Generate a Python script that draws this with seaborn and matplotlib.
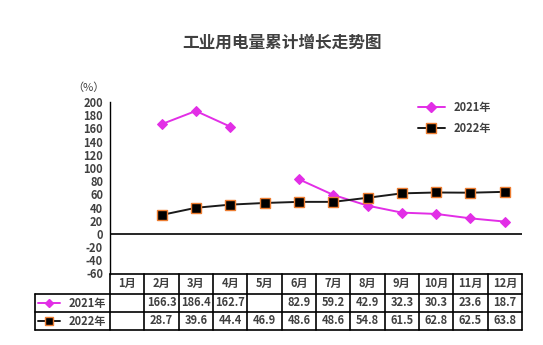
import numpy as np
import pandas as pd
import matplotlib
matplotlib.use("Agg")
import matplotlib.pyplot as plt
import seaborn as sns
from matplotlib.lines import Line2D

months = ["1月", "2月", "3月", "4月", "5月", "6月", "7月", "8月", "9月", "10月", "11月", "12月"]
v2021 = [np.nan, 166.3, 186.4, 162.7, np.nan, 82.9, 59.2, 42.9, 32.3, 30.3, 23.6, 18.7]
v2022 = [np.nan, 28.7, 39.6, 44.4, 46.9, 48.6, 48.6, 54.8, 61.5, 62.8, 62.5, 63.8]
series_names = ["2021年", "2022年"]
yticks = list(range(-60, 201, 20))
title = "工业用电量累计增长走势图"

sns.set_theme(style="white")
plt.rcParams['font.family'] = ['Noto Sans CJK SC', 'DejaVu Sans']

W, H = 543, 345
fig = plt.figure(figsize=(W / 100, H / 100), dpi=100)

def fx(x):
    return x / W

def fy(y):
    return 1 - y / H

ax_l, ax_r, ax_t, ax_b = 110, 522, 102, 273.5
ax = fig.add_axes([fx(ax_l), fy(ax_b), fx(ax_r - ax_l), (ax_b - ax_t) / H])

c21 = "#E22EE6"
c22 = "#1a1a1a"
orange = "#ED7D31"
txtc = "#404040"

def segments(vals):
    rows = []
    seg = 0
    prev_nan = True
    for i, v in enumerate(vals):
        if np.isnan(v):
            prev_nan = True
            continue
        if prev_nan:
            seg += 1
            prev_nan = False
        rows.append({"x": i, "v": v, "seg": seg})
    return pd.DataFrame(rows)

d21 = segments(v2021)
d22 = segments(v2022)

sns.lineplot(data=d21, x="x", y="v", units="seg", estimator=None, color=c21,
             lw=1.4, marker="D", markersize=5, markeredgecolor=c21, ax=ax, legend=False)
sns.lineplot(data=d22, x="x", y="v", units="seg", estimator=None, color=c22,
             lw=1.4, marker="s", markersize=7, markerfacecolor="black",
             markeredgecolor=orange, markeredgewidth=1.0, ax=ax, legend=False)

ax.set_xlim(-0.5, 11.5)
ax.set_ylim(-60, 200)
ax.set_yticks(yticks)
ax.set_yticklabels([str(t) for t in yticks], fontsize=8, fontweight="bold", color=txtc)
ax.set_xticks([])
ax.set_xlabel("")
ax.set_ylabel("")
ax.axhline(0, color="black", lw=1.2, zorder=1)
for s in ["top", "right", "bottom"]:
    ax.spines[s].set_visible(False)
ax.spines["left"].set_color("black")
ax.spines["left"].set_linewidth(1.0)
ax.tick_params(axis="y", direction="out", length=4, width=1, color="black", pad=1)
ax.patch.set_alpha(0)

fig.text(fx(282), fy(43), title, ha="center", va="center", fontsize=12,
         fontweight="bold", color=txtc)
fig.text(fx(88), fy(88), "（%）", ha="center", va="center", fontsize=8, color=txtc)

h21 = Line2D([], [], color=c21, lw=1.4, marker="D", markersize=5, markeredgecolor=c21)
h22 = Line2D([], [], color=c22, lw=1.4, marker="s", markersize=7, markerfacecolor="black",
             markeredgecolor=orange)
fig.legend([h21, h22], series_names, loc="upper left", bbox_to_anchor=(fx(408), fy(91)),
           frameon=False, handlelength=2.4, labelspacing=0.75,
           prop={"weight": "bold", "size": 8})
for t in fig.legends[0].get_texts():
    t.set_color(txtc)

# data table
col_w = (ax_r - ax_l) / 12
rows_y = [273.5, 294, 312, 330]
lab_l = 35
lk = dict(color="black", lw=1.2, transform=fig.transFigure, clip_on=False)
fig.add_artist(Line2D([fx(ax_l), fx(ax_r)], [fy(rows_y[0])] * 2, **lk))
for yy in rows_y[1:]:
    fig.add_artist(Line2D([fx(lab_l), fx(ax_r)], [fy(yy)] * 2, **lk))
for i in range(13):
    xx = ax_l + col_w * i
    fig.add_artist(Line2D([fx(xx)] * 2, [fy(rows_y[0]), fy(rows_y[3])], **lk))
fig.add_artist(Line2D([fx(lab_l)] * 2, [fy(rows_y[1]), fy(rows_y[3])], **lk))

for i, m in enumerate(months):
    xc = ax_l + col_w * (i + 0.5)
    fig.text(fx(xc), fy((rows_y[0] + rows_y[1]) / 2), m, ha="center", va="center",
             fontsize=8, fontweight="bold", color=txtc)

for r, (vals, name, h) in enumerate(zip([v2021, v2022], series_names, [h21, h22])):
    yc = (rows_y[r + 1] + rows_y[r + 2]) / 2
    fig.add_artist(Line2D([fx(38), fx(60)], [fy(yc)] * 2, color=h.get_color(), lw=1.4,
                          transform=fig.transFigure))
    fig.add_artist(Line2D([fx(49)], [fy(yc)], marker=h.get_marker(),
                          markersize=h.get_markersize() - 1,
                          markerfacecolor=h.get_markerfacecolor(),
                          markeredgecolor=h.get_markeredgecolor(), lw=0,
                          transform=fig.transFigure))
    fig.text(fx(87), fy(yc), name, ha="center", va="center", fontsize=8,
             fontweight="bold", color=txtc)
    for i, v in enumerate(vals):
        if np.isnan(v):
            continue
        xc = ax_l + col_w * (i + 0.5)
        fig.text(fx(xc), fy(yc), f"{v:.1f}", ha="center", va="center",
                 fontsize=8, fontweight="bold", color=txtc)

fig.savefig("out.png", dpi=100, facecolor="white")
